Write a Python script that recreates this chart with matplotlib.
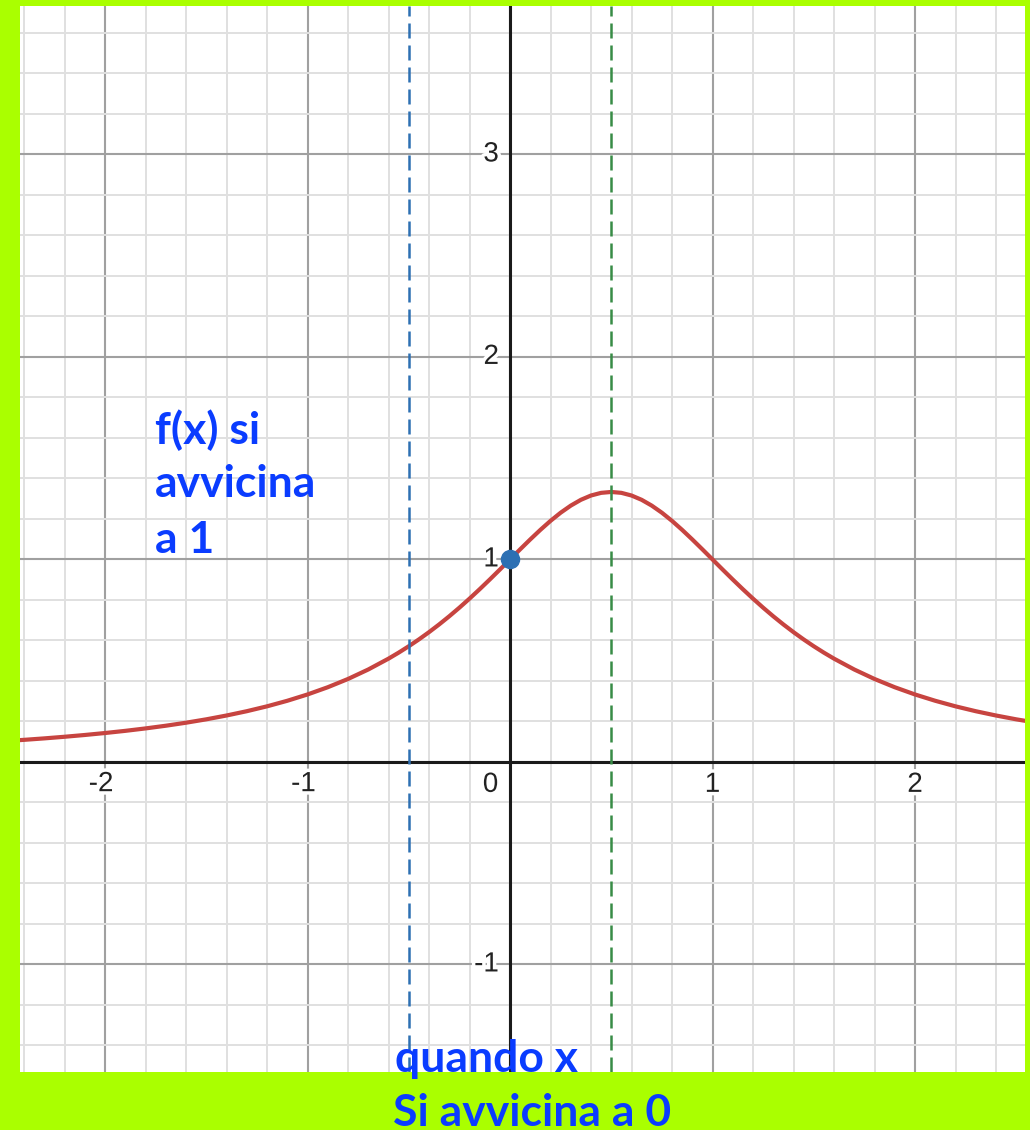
import matplotlib.pyplot as plt
import matplotlib.patheffects as pe
from matplotlib.ticker import MultipleLocator

# Curve values (denser around the peak)
curve_x = [-2.5, -2.4, -2.3, -2.2, -2.1, -2.0, -1.9, -1.8, -1.7, -1.6,
           -1.5, -1.4, -1.3, -1.2, -1.1, -1.0, -0.9, -0.8, -0.7, -0.6,
           -0.55, -0.5, -0.45, -0.4, -0.35, -0.3, -0.25, -0.2, -0.15, -0.1,
           -0.05, 0.0, 0.05, 0.1, 0.15, 0.2, 0.25, 0.3, 0.35, 0.4,
           0.45, 0.5, 0.55, 0.6, 0.65, 0.7, 0.75, 0.8, 0.85, 0.9,
           0.95, 1.0, 1.05, 1.1, 1.15, 1.2, 1.25, 1.3, 1.35, 1.4,
           1.45, 1.5, 1.55, 1.6, 1.7, 1.8, 1.9, 2.0, 2.1, 2.2,
           2.3, 2.4, 2.5, 2.6]
curve_y = [0.1026, 0.1092, 0.1164, 0.1244, 0.1332, 0.1429, 0.1536, 0.1656, 0.1789, 0.1938,
           0.2105, 0.2294, 0.2506, 0.2747, 0.3021, 0.3333, 0.3690, 0.4098, 0.4566, 0.5102,
           0.5398, 0.5714, 0.6051, 0.6410, 0.6791, 0.7194, 0.7619, 0.8065, 0.8529, 0.9009,
           0.9501, 1.0000, 1.0499, 1.0989, 1.1461, 1.1905, 1.2308, 1.2658, 1.2945, 1.3158,
           1.3289, 1.3333, 1.3289, 1.3158, 1.2945, 1.2658, 1.2308, 1.1905, 1.1461, 1.0989,
           1.0499, 1.0000, 0.9501, 0.9009, 0.8529, 0.8065, 0.7619, 0.7194, 0.6791, 0.6410,
           0.6051, 0.5714, 0.5398, 0.5102, 0.4566, 0.4098, 0.3690, 0.3333, 0.3021, 0.2747,
           0.2506, 0.2294, 0.2105, 0.1938]

point_x = [0]
point_y = [1]

blue_line_x = -0.5
green_line_x = 0.5

x_tick_vals = [-2, -1, 0, 1, 2]
y_tick_vals = [-1, 1, 2, 3]

label_left = ["f(x) si", "avvicina", "a 1"]
label_bottom = ["quando x", "Si avvicina a 0"]

W, H = 1030, 1130
fig = plt.figure(figsize=(W / 100, H / 100), dpi=100, facecolor='#aaff00')
ax = fig.add_axes([20 / W, 58 / H, 1005 / W, 1066 / H])
ax.set_facecolor('white')

ax.set_xlim(-2.4198, 2.5432)
ax.set_ylim(-1.531, 3.733)

# grid
ax.xaxis.set_major_locator(MultipleLocator(1))
ax.yaxis.set_major_locator(MultipleLocator(1))
ax.xaxis.set_minor_locator(MultipleLocator(0.2))
ax.yaxis.set_minor_locator(MultipleLocator(0.2))
ax.grid(which='minor', color='#e0e0e0', lw=1.4, zorder=0)
ax.grid(which='major', color='#a0a0a0', lw=1.5, zorder=0)
ax.tick_params(which='both', length=0, labelbottom=False, labelleft=False)
for s in ax.spines.values():
    s.set_visible(False)
ax.set_axisbelow(True)

ax.axhline(0, color='#1a1a1a', lw=2.2, zorder=1)
ax.axvline(0, color='#1a1a1a', lw=2.2, zorder=1)

# tick labels with white halo
halo = [pe.withStroke(linewidth=5, foreground='white')]
tfont = dict(family='Liberation Sans', fontsize=20, color='#222222', path_effects=halo, zorder=2)
for v in x_tick_vals:
    if v == 0:
        ax.annotate('0', (0, 0), xytext=(-14, -16.5), textcoords='offset points',
                    ha='center', va='center', **tfont)
    elif v < 0:
        ax.annotate(str(v), (v, 0), xytext=(6, -16), textcoords='offset points',
                    ha='right', va='center', **tfont)
    else:
        ax.annotate(str(v), (v, 0), xytext=(0, -16.5), textcoords='offset points',
                    ha='center', va='center', **tfont)
for v in y_tick_vals:
    ax.annotate(str(v), (0, v), xytext=(-8, 0), textcoords='offset points',
                ha='right', va='center', **tfont)

ax.plot(curve_x, curve_y, color='#c74440', lw=3, solid_capstyle='round',
        solid_joinstyle='round', zorder=3)

ax.axvline(blue_line_x, color='#2d70b3', lw=1.8, dashes=(6, 2.8), zorder=4)
ax.axvline(green_line_x, color='#388c46', lw=1.8, dashes=(6, 2.8), zorder=4)

ax.plot(point_x, point_y, 'o', color='#2d70b3', markersize=13, zorder=5)

# annotations
tstyle = dict(family='Lato', fontweight='bold', fontsize=32, color='#0a3cff')
for txt, base in zip(label_left, [444, 497, 553]):
    fig.text(155 / W, 1 - base / H, txt, ha='left', va='baseline', **tstyle)
fig.text(395 / W, 1 - 1072 / H, label_bottom[0], ha='left', va='baseline', **tstyle)
fig.text(393 / W, 1 - 1126 / H, label_bottom[1], ha='left', va='baseline', **tstyle)

fig.savefig('out.png', dpi=100, facecolor=fig.get_facecolor())
